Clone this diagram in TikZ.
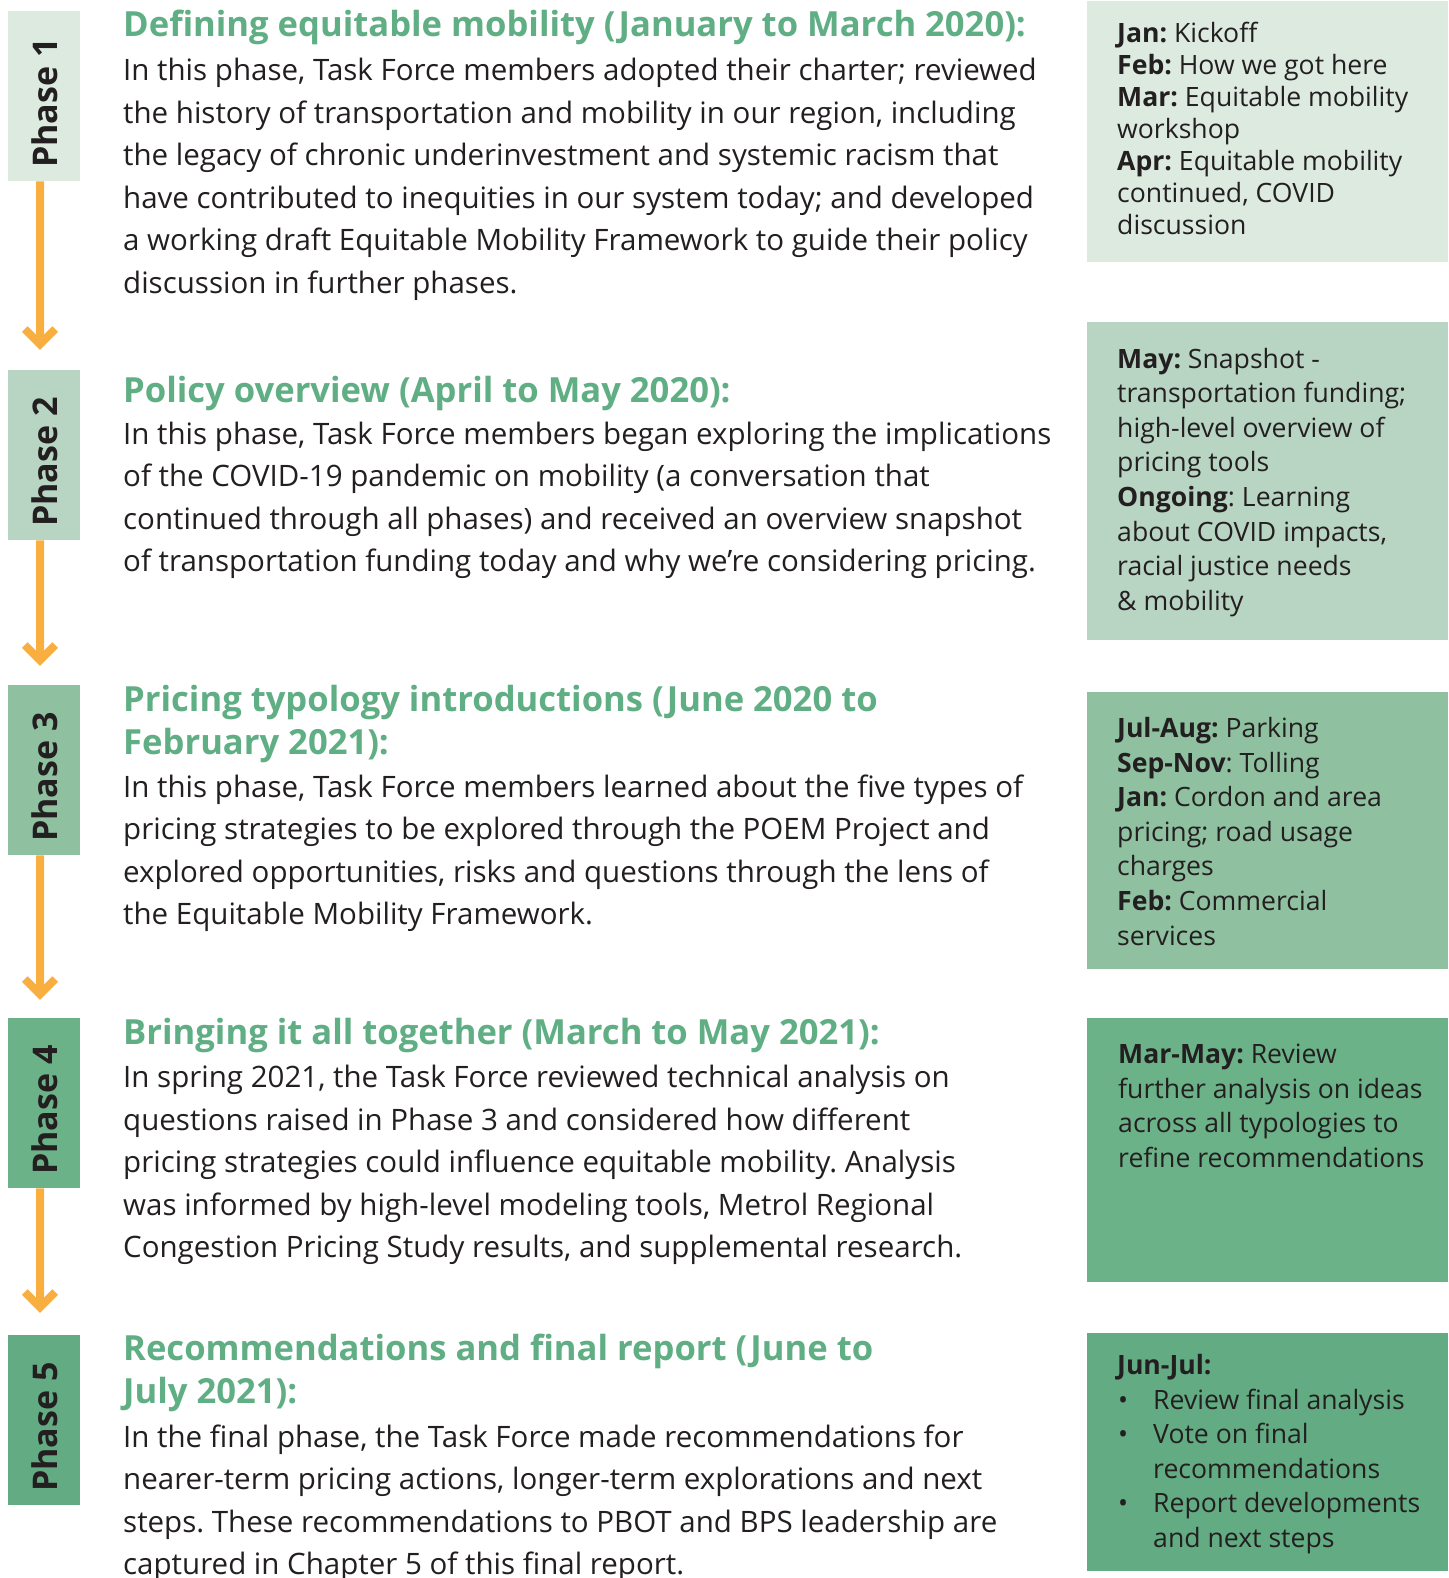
\documentclass[tikz,border=0pt]{standalone}
\usepackage{fontspec}
\setmainfont{Open Sans}
\frenchspacing
\definecolor{cA}{HTML}{DCEAE0}
\definecolor{cB}{HTML}{B8D4C2}
\definecolor{cC}{HTML}{8FC1A1}
\definecolor{cD}{HTML}{6BB288}
\definecolor{cE}{HTML}{62AB83}
\definecolor{headg}{HTML}{60AE84}
\definecolor{txtdark}{HTML}{231F20}
\definecolor{orng}{HTML}{F9AE40}
\newcommand{\blk}[2]{\vtop{\baselineskip=#1pt\lineskiplimit=-100pt #2}}
\newcommand{\tl}[1]{\hbox{\strut #1}}
\newcommand{\bul}[1]{\hbox{\strut\makebox[36pt][l]{\hspace{1pt}•}#1}}
\newcommand{\ind}[1]{\hbox{\strut\hspace{36pt}#1}}
\begin{document}
\begin{tikzpicture}[x=1pt,y=-1pt,
  phasebox/.style={fill=#1,draw=none,minimum width=72pt,minimum height=170pt,inner sep=0pt,anchor=north west},
  sidebox/.style={fill=#1,draw=none,minimum width=361pt,inner sep=0pt,anchor=north west},
  phaselbl/.style={rotate=90,inner sep=0pt,text=txtdark,font=\fontsize{34}{40}\selectfont\bfseries},
  headtxt/.style={anchor=base west,inner sep=0pt,text=headg,font=\fontsize{34.6}{43}\selectfont\bfseries},
  bodytxt/.style={anchor=base west,inner sep=0pt,text=txtdark,font=\fontsize{29.5}{42.4}\selectfont},
  sidetxt/.style={anchor=base west,inner sep=0pt,text=txtdark,font=\fontsize{26.6}{32}\selectfont},
  arrowline/.style={draw=orng,line width=8pt},
  chevron/.style={draw=orng,line width=8pt,miter limit=10}
]
\useasboundingbox (0,0) rectangle (1448,1578);
\fill[white] (0,0) rectangle (1448,1578);

% phase boxes
\node[phasebox=cA] (p1) at (8,11) {};
\node[phasebox=cB] (p2) at (8,370) {};
\node[phasebox=cC] (p3) at (8,685) {};
\node[phasebox=cD] (p4) at (8,1018) {};
\node[phasebox=cE] (p5) at (8,1335) {};
\node[phaselbl] (l1) at ([xshift=1pt,yshift=-7pt]p1.center) {Phase 1};
\node[phaselbl] (l2) at ([xshift=1pt,yshift=-7pt]p2.center) {Phase 2};
\node[phaselbl] (l3) at ([xshift=1pt,yshift=-7pt]p3.center) {Phase 3};
\node[phaselbl] (l4) at ([xshift=1pt,yshift=-7pt]p4.center) {Phase 4};
\node[phaselbl] (l5) at ([xshift=1pt,yshift=-7pt]p5.center) {Phase 5};

% arrows
\coordinate (t1) at (40,344.3);
\coordinate (t2) at (40,660.3);
\coordinate (t3) at (40,994.3);
\coordinate (t4) at (40,1307.3);
\foreach \a/\t in {p1/t1,p2/t2,p3/t3,p4/t4}{
  \draw[arrowline] ([xshift=-4pt]\a.south) -- (\t);
  \draw[chevron] ([shift={(-15.2,-15.2)}]\t) -- (\t) -- ([shift={(15.2,-15.2)}]\t);
}

% side boxes
\node[sidebox=cA,minimum height=261pt] (s1) at (1087,1) {};
\node[sidebox=cB,minimum height=318pt] (s2) at (1087,322) {};
\node[sidebox=cC,minimum height=277pt] (s3) at (1087,692) {};
\node[sidebox=cD,minimum height=264pt] (s4) at (1087,1018) {};
\node[sidebox=cE,minimum height=238pt] (s5) at (1087,1333) {};

% headings and bodies
\node[headtxt] (h1) at (123,37) {Defining equitable mobility (January to March 2020):};
\node[bodytxt] (b1) at (123,81) {\blk{42.5}{%
\tl{In this phase, Task Force members adopted their charter; reviewed}
\tl{the history of transportation and mobility in our region, including}
\tl{the legacy of chronic underinvestment and systemic racism that}
\tl{have contributed to inequities in our system today; and developed}
\tl{a working draft Equitable Mobility Framework to guide their policy}
\tl{discussion in further phases.}}};

\node[headtxt] (h2) at (123,402.5) {Policy overview (April to May 2020):};
\node[bodytxt] (b2) at (123,444) {\blk{42.5}{%
\tl{In this phase, Task Force members began exploring the implications}
\tl{of the COVID-19 pandemic on mobility (a conversation that}
\tl{continued through all phases) and received an overview snapshot}
\tl{of transportation funding today and why we’re considering pricing.}}};

\node[headtxt] (h3) at (123,711) {\blk{43}{%
\tl{Pricing typology introductions (June 2020 to}
\tl{February 2021):}}};
\node[bodytxt] (b3) at (123,797) {\blk{42.5}{%
\tl{In this phase, Task Force members learned about the five types of}
\tl{pricing strategies to be explored through the POEM Project and}
\tl{explored opportunities, risks and questions through the lens of}
\tl{the Equitable Mobility Framework.}}};

\node[headtxt] (h4) at (123,1044) {Bringing it all together (March to May 2021):};
\node[bodytxt] (b4) at (123,1087.5) {\blk{42.5}{%
\tl{In spring 2021, the Task Force reviewed technical analysis on}
\tl{questions raised in Phase 3 and considered how different}
\tl{pricing strategies could influence equitable mobility. Analysis}
\tl{was informed by high-level modeling tools, Metrol Regional}
\tl{Congestion Pricing Study results, and supplemental research.}}};

\node[headtxt] (h5) at (123,1360) {\blk{43.5}{%
\tl{Recommendations and final report (June to}
\tl{July 2021):}}};
\node[bodytxt] (b5) at (123,1447) {\blk{42.5}{%
\tl{In the final phase, the Task Force made recommendations for}
\tl{nearer-term pricing actions, longer-term explorations and next}
\tl{steps. These recommendations to PBOT and BPS leadership are}
\tl{captured in Chapter 5 of this final report.}}};

% side texts
\node[sidetxt] (x1) at (1117,43) {\blk{32}{%
\tl{\textbf{Jan:} Kickoff}
\tl{\textbf{Feb:} How we got here}
\tl{\textbf{Mar:} Equitable mobility}
\tl{workshop}
\tl{\textbf{Apr:} Equitable mobility}
\tl{continued, COVID}
\tl{discussion}}};

\node[sidetxt] (x2) at (1117,368) {\blk{34.6}{%
\tl{\textbf{May:} Snapshot -}
\tl{transportation funding;}
\tl{high-level overview of}
\tl{pricing tools}
\tl{\textbf{Ongoing}: Learning}
\tl{about COVID impacts,}
\tl{racial justice needs}
\tl{\& mobility}}};

\node[sidetxt] (x3) at (1117,737.5) {\blk{34.6}{%
\tl{\textbf{Jul-Aug:} Parking}
\tl{\textbf{Sep-Nov}: Tolling}
\tl{\textbf{Jan:} Cordon and area}
\tl{pricing; road usage}
\tl{charges}
\tl{\textbf{Feb:} Commercial}
\tl{services}}};

\node[sidetxt] (x4) at (1118,1063.6) {\blk{34.6}{%
\tl{\textbf{Mar-May:} Review}
\tl{further analysis on ideas}
\tl{across all typologies to}
\tl{refine recommendations}}};

\node[sidetxt] (x5) at (1117,1374.5) {\blk{34.6}{%
\tl{\textbf{Jun-Jul:}}
\bul{Review final analysis}
\bul{Vote on final}
\ind{recommendations}
\bul{Report developments}
\ind{and next steps}}};
\end{tikzpicture}
\end{document}
